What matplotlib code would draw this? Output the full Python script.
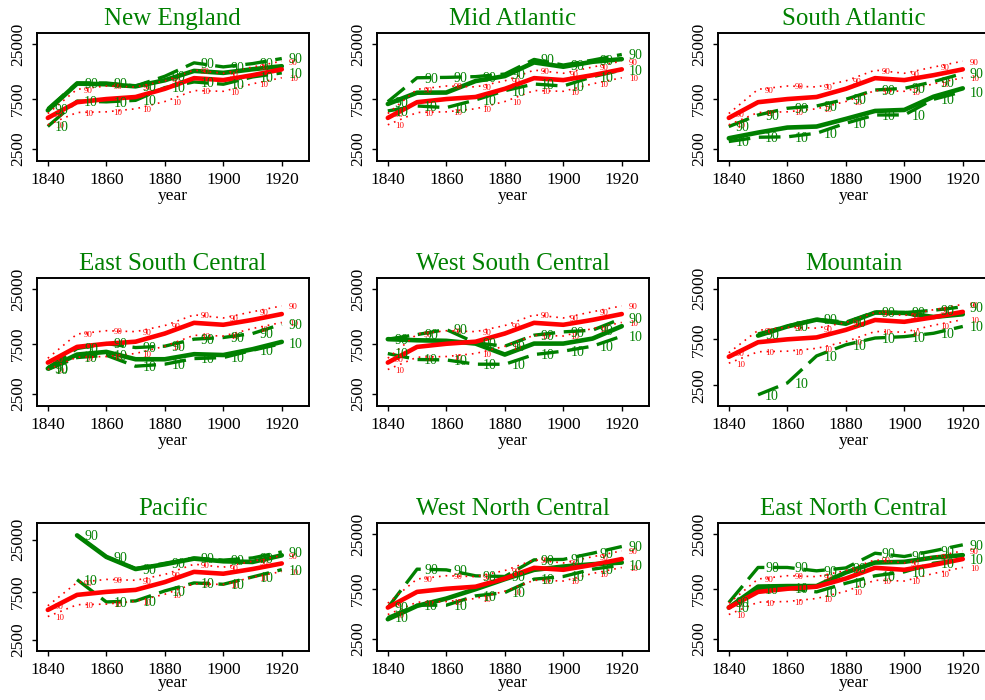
import numpy as np
import matplotlib
matplotlib.use('Agg')
import matplotlib.pyplot as plt
from matplotlib.ticker import FixedLocator, NullLocator, FixedFormatter

plt.rcParams['font.family'] = ['Liberation Serif', 'DejaVu Serif']

years = [1840, 1850, 1860, 1870, 1880, 1890, 1900, 1910, 1920]

# national benchmark (red), same in every panel
nat_med = [4950, 7000, 7500, 7850, 9400, 11900, 11400, 12700, 14450]
nat_p10 = [4250, 5580, 5660, 6050, 7100, 9050, 8900, 10500, 12000]
nat_p90 = [5450, 9300, 10000, 9800, 11200, 14200, 13250, 15200, 17300]

# regions (green): median, 10th and 90th percentile
ne_med = [5850, 10550, 10400, 9930, 11350, 13960, 13360, 14480, 15480]
ne_p10 = [4100, 7180, 7050, 7290, 9660, 10940, 10400, 12220, 13360]
ne_p90 = [6060, 10700, 10700, 10000, 12400, 16670, 15250, 16400, 18340]

ma_med = [6730, 8630, 8660, 11160, 12450, 16830, 15300, 17070, 18100]
ma_p10 = [5770, 6440, 6210, 7350, 9020, 10450, 10000, 12280, 14220]
ma_p90 = [7080, 12000, 12100, 12300, 13030, 17980, 15880, 17700, 20050]

sa_med = [3160, 3580, 4000, 4090, 4840, 5770, 5900, 7900, 9500]
sa_p10 = [2940, 3230, 3260, 3530, 4400, 5280, 5280, 7460, 8830]
sa_p90 = [4090, 5280, 6120, 6440, 7460, 9160, 9500, 11000, 13200]

esc_med = [4340, 5910, 6270, 5330, 5330, 5960, 5850, 6650, 7820]
esc_p10 = [4250, 5530, 5820, 4570, 4780, 5410, 5530, 6500, 7530]
esc_p90 = [4430, 6750, 7530, 6900, 7110, 8300, 8610, 9400, 11560]

wsc_med = [8300, 8100, 8000, 7530, 5910, 7530, 7530, 8410, 11050]
wsc_p10 = [6040, 5300, 5250, 4780, 4770, 5910, 6370, 7110, 8870]
wsc_p90 = [8300, 9180, 10270, 7650, 7110, 9060, 9750, 10120, 13100]

mt_med = [np.nan, 8200, 10200, 12000, 10890, 14200, 14100, 12790, 13650]
mt_p10 = [np.nan, 2000, 2650, 5050, 6590, 7740, 8000, 8670, 10200]
mt_p90 = [np.nan, 8530, 10300, 12100, 11300, 14420, 14200, 15000, 16300]

pac_med = [np.nan, 27600, 16800, 12700, 14170, 16140, 15180, 14950, 17420]
pac_p10 = [np.nan, 9950, 5950, 6090, 7670, 9220, 8940, 10590, 12530]
pac_p90 = [np.nan, 27600, 16800, 12820, 14500, 16400, 15600, 16400, 18840]

wnc_med = [3830, 5140, 6040, 7430, 9270, 11380, 12250, 12890, 13370]
wnc_p10 = [3970, 5220, 5220, 6410, 6900, 9270, 9830, 11560, 12620]
wnc_p90 = [4950, 11560, 11380, 9980, 9830, 14190, 14330, 16430, 19050]

enc_med = [4950, 7870, 7960, 7960, 10740, 13370, 13580, 14930, 15740]
enc_p10 = [4950, 7430, 7600, 7000, 8470, 9980, 10890, 13180, 14390]
enc_p90 = [5530, 12000, 12000, 11140, 11870, 16430, 15280, 17300, 19770]

titles = ['New England', 'Mid Atlantic', 'South Atlantic',
          'East South Central', 'West South Central', 'Mountain',
          'Pacific', 'West North Central', 'East North Central']
panels = [(ne_med, ne_p10, ne_p90), (ma_med, ma_p10, ma_p90), (sa_med, sa_p10, sa_p90),
          (esc_med, esc_p10, esc_p90), (wsc_med, wsc_p10, wsc_p90), (mt_med, mt_p10, mt_p90),
          (pac_med, pac_p10, pac_p90), (wnc_med, wnc_p10, wnc_p90), (enc_med, enc_p10, enc_p90)]
ylims = {'Mountain': (1530, 32400), 'Pacific': (1920, 36700)}

GREEN = '#008000'
RED = '#ff0000'
W, H = 985, 700
col_left = [36.7, 376.7, 717.7]
row_top = [33.3, 278, 523]


def label_points(ax, ys, text, color, size):
    for x, y in zip(years, ys):
        if np.isnan(y):
            continue
        ax.annotate(text, (x, y), xytext=(5, -1), textcoords='offset points',
                    ha='left', va='center', color=color, fontsize=size)


fig = plt.figure(figsize=(W / 100, H / 100), dpi=100)

for i, (title, (med, p10, p90)) in enumerate(zip(titles, panels)):
    r, c = divmod(i, 3)
    ax = fig.add_axes([col_left[c] / W, 1 - (row_top[r] + 128) / H, 272 / W, 128 / H])
    med = np.array(med, float)
    p10 = np.array(p10, float)
    p90 = np.array(p90, float)

    ax.plot(years, p90, color=GREEN, lw=2.4, dashes=(6.5, 2.6))
    ax.plot(years, p10, color=GREEN, lw=2.4, dashes=(6.5, 2.6))
    ax.plot(years, med, color=GREEN, lw=3.3, solid_capstyle='round')
    ax.plot(years, nat_p90, color=RED, lw=1.2, linestyle=(0, (1, 3)))
    ax.plot(years, nat_p10, color=RED, lw=1.2, linestyle=(0, (1, 3)))
    ax.plot(years, nat_med, color=RED, lw=3.3, solid_capstyle='round')

    label_points(ax, np.array(nat_p90, float), '90', RED, 6.3)
    label_points(ax, np.array(nat_p10, float), '10', RED, 6.3)
    label_points(ax, p90, '90', GREEN, 10)
    label_points(ax, p10, '10', GREEN, 10)

    ax.set_yscale('log')
    ax.set_ylim(*ylims.get(title, (1900, 32000)))
    ax.set_xlim(1836.2, 1929.2)
    ax.yaxis.set_major_locator(FixedLocator([2500, 7500, 25000]))
    ax.yaxis.set_major_formatter(FixedFormatter(['2500', '7500', '25000']))
    ax.yaxis.set_minor_locator(NullLocator())
    ax.set_xticks([1840, 1860, 1880, 1900, 1920])
    ax.tick_params(axis='both', direction='out', length=3.8, width=1, labelsize=12.5, pad=4)
    ax.tick_params(axis='y', labelrotation=90)
    for lbl in ax.get_yticklabels():
        lbl.set_va('center')
    for sp in ax.spines.values():
        sp.set_linewidth(1.4)
    ax.set_xlabel('year', fontsize=12.5, labelpad=0 if r < 2 else -2)
    ax.set_title(title, color=GREEN, fontsize=18, pad=6)

fig.savefig('out.png', dpi=100)
